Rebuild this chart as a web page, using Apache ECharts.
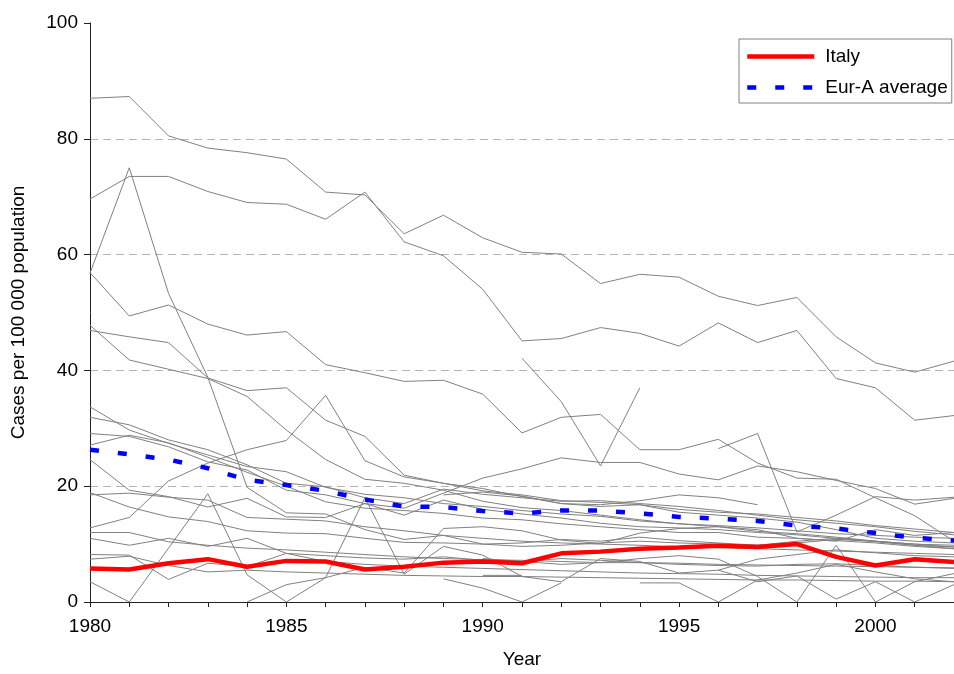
<!DOCTYPE html>
<html lang="en">

<head>
    <meta charset="UTF-8">
    <title>Cases per 100 000 population, Italy and Eur-A</title>
    <style type="text/css">
        html, body { margin: 0; padding: 0; background: #fff; }
        #main { height: 674px; width: 954px; }
    </style>
    <script src="https://cdn.jsdelivr.net/npm/echarts@6/dist/echarts.min.js"></script>
</head>

<body>
    <div id="main"></div>
    <script type="text/javascript">
        var years = [1980, 1981, 1982, 1983, 1984, 1985, 1986, 1987, 1988, 1989, 1990, 1991,
            1992, 1993, 1994, 1995, 1996, 1997, 1998, 1999, 2000, 2001, 2002];

        var italy = [5.8, 5.6, 6.7, 7.4, 6.1, 7.1, 7.0, 5.6, 6.1, 6.8, 7.0, 6.7, 8.4, 8.7, 9.2, 9.4, 9.7, 9.5, 10.0, 7.8, 6.3, 7.4, 6.9];
        var eurA = [26.3, 25.5, 24.6, 23.1, 21.1, 20.2, 19.2, 17.7, 16.5, 16.4, 15.7, 15.3, 15.8, 15.8, 15.3, 14.7, 14.4, 14.0, 13.2, 12.7, 11.9, 11.1, 10.6];

        // other Eur-A countries (grey lines), null = no data
        var g01 = [87.0, 87.3, 80.5, 78.4, 77.6, 76.5, 70.8, 70.3, 63.6, 66.8, 62.9, 60.4, 60.1, 55.0, 56.6, 56.1, 52.8, 51.2, 52.6, 45.8, 41.3, 39.7, 41.6];
        var g02 = [69.6, 73.5, 73.5, 70.9, 69.0, 68.7, 66.1, 70.8, 62.2, 59.8, 54.0, 45.1, 45.5, 47.4, 46.4, 44.2, 48.2, 44.8, 46.9, 38.6, 37.0, 31.4, 32.2];
        var g03 = [56.8, 75.0, 53.3, 38.8, 19.8, 15.4, 15.2, 12.5, 10.8, 11.5, 10.0, 10.2, 10.8, 10.5, 11.2, 10.6, 10.2, 9.8, 10.5, 11.0, 10.4, 9.8, 9.5];
        var g04 = [56.9, 49.4, 51.3, 48.0, 46.1, 46.7, 41.0, 39.6, 38.1, 38.3, 35.9, 29.2, 31.9, 32.4, 26.3, 26.3, 28.1, 24.0, 21.4, 21.2, 18.0, 14.9, 10.5];
        var g05 = [47.8, 41.8, 40.2, 38.6, 35.5, 29.7, 24.6, 21.2, 20.5, 19.3, 17.4, 16.3, 15.8, 15.0, 14.2, 13.5, 13.0, 12.2, 11.8, 11.2, 10.5, 10.0, 9.5];
        var g06 = [46.9, 45.8, 44.8, 38.7, 36.5, 37.0, 31.4, 28.6, 21.9, 20.5, 19.6, 18.2, 17.0, 16.5, 16.8, 15.5, 15.0, 14.5, 13.8, 12.5, 11.0, 10.5, 10.2];
        var g07 = [12.8, 14.6, 20.9, 24.0, 26.3, 27.9, 35.7, 24.4, 21.6, 20.5, 19.2, 18.5, 17.5, 17.2, 16.8, 16.0, 15.5, 15.2, 14.6, 14.0, 13.2, 12.6, 12.0];
        var g08 = [24.6, 19.3, 18.2, 16.4, 17.9, 14.7, 14.6, 17.0, 16.2, 18.8, 21.4, 23.0, 24.9, 24.1, 24.1, 22.1, 21.1, 23.5, 22.5, 21.0, 19.6, 16.9, 17.9];
        var g09 = [33.7, 29.7, 27.4, 25.4, 23.4, 22.5, 19.8, 18.6, 18.0, 17.0, 16.5, 15.8, 15.2, 14.8, 14.0, 13.5, 13.2, 12.8, 12.3, 11.8, 11.5, 11.2, 11.0];
        var g10 = [31.9, 30.6, 28.0, 26.3, 23.7, 20.5, 19.9, 18.0, 17.0, 19.5, 18.6, 18.0, 17.4, 17.5, 17.0, 16.5, 15.8, 15.0, 14.2, 13.6, 13.0, 12.2, 11.6];
        var g11 = [29.1, 28.6, 26.8, 24.2, 22.8, 19.3, 18.5, 17.0, 15.0, 17.6, 16.0, 15.2, 14.5, 13.6, 13.0, 12.8, 12.5, 12.0, 11.6, 11.0, 10.5, 10.0, 9.8];
        var g12 = [27.1, 28.8, 27.5, 25.0, 22.4, 20.0, 17.3, 16.2, 15.8, 15.3, 14.5, 14.2, 13.5, 13.0, 12.5, 12.0, 12.0, 11.2, 11.0, 10.6, 10.2, 9.6, 9.2];
        var g13 = [18.5, 18.8, 18.1, 17.6, 14.6, 14.3, 14.0, 13.0, 12.3, 11.5, 11.0, 10.5, 10.2, 10.0, 9.8, 9.5, 9.4, 9.2, 9.0, 8.8, 8.6, 8.4, 8.2];
        var g14 = [18.9, 16.4, 14.7, 13.9, 12.3, 11.9, 11.8, 11.0, 10.3, 10.2, 10.0, 9.6, 9.8, 10.2, 10.5, 10.2, 10.0, 9.8, 10.2, 10.8, 10.5, 9.8, 9.2];
        var g15 = [12.0, 12.0, 10.4, 9.8, 9.3, 9.0, 8.6, 8.2, 7.8, 7.5, 7.3, 7.2, 7.0, 6.8, 6.8, 6.7, 6.5, 6.4, 6.3, 6.2, 6.1, 6.0, 5.9];
        var g16 = [11.0, 9.8, 11.0, 9.6, 11.0, 8.4, 8.0, 7.6, 7.4, 7.8, 7.2, 7.0, 7.5, 7.2, 6.8, 6.5, 6.3, 6.2, 6.5, 6.6, 6.3, 6.0, 5.8];
        var g17 = [8.2, 8.1, 3.9, 6.7, 6.1, 8.4, 7.0, 6.5, 6.2, 6.0, 5.8, 5.6, 5.4, 5.2, 5.0, 4.9, 4.8, 4.6, 4.5, 4.4, 4.3, 4.2, 4.2];
        var g18 = [7.4, 7.9, 6.3, 5.2, 5.5, 5.2, 5.0, 4.8, 4.6, 4.5, 4.4, 4.4, 4.3, 4.2, 4.1, 4.0, 3.9, 3.8, 3.8, 3.7, 3.6, 3.6, 3.5];
        var g19 = [3.5, 0, 9.3, 18.7, 4.7, 0, 4.2, 6.0, 5.0, 12.7, 13.0, 12.3, 10.7, 10.1, 11.9, 12.7, 13.0, 12.5, 11.0, 10.5, 12.5, 11.5, 12.0];
        var g20 = [null, null, null, null, 0, 3.0, 4.2, 18.0, 4.8, 9.6, 8.1, 4.4, 3.5, 7.5, 7.0, 5.0, 5.5, 7.4, 8.2, 9.0, 8.5, 8.0, 7.8];
        var g21 = [null, null, null, null, null, null, null, null, null, 4.0, 2.4, 0, 3.3, null, null, null, null, null, null, null, null, null, null];
        var g22 = [null, null, null, null, null, null, null, null, null, null, 4.6, 4.6, null, null, null, null, null, null, null, null, null, null, null];
        var g23 = [null, null, null, null, null, null, null, null, null, null, null, null, null, null, 3.3, 3.3, 0, 3.8, 5.0, 6.5, 5.2, 4.0, 3.5];
        var g24 = [null, null, null, null, null, null, null, null, null, null, 7.5, 7.0, 6.5, 6.8, 7.5, 8.0, 7.4, 4.4, 0, 9.8, 0, 3.5, 4.9];
        var g25 = [null, null, null, null, null, null, null, null, null, null, null, null, null, null, null, null, 5.5, 3.5, 4.5, 0.5, 3.5, 0, 3.0];
        var g26 = [null, null, null, null, null, null, null, null, null, null, null, 42.1, 34.6, 23.5, 37.0, null, null, null, null, null, null, null, null];
        var g27 = [null, null, null, null, null, null, null, null, null, null, null, null, null, null, null, null, 26.5, 29.1, 12.1, 15.0, 18.2, 17.6, 18.1];
        var g28 = [null, null, null, null, null, null, null, null, null, 18.5, 19.0, 18.3, 17.0, 16.8, 17.5, 18.5, 18.0, 16.8, null, null, null, null, null];

        var greys = [g01, g02, g03, g04, g05, g06, g07, g08, g09, g10, g11, g12, g13, g14,
            g15, g16, g17, g18, g19, g20, g21, g22, g23, g24, g25, g26, g27, g28];

        var font = "'Liberation Sans', Arial, sans-serif";
        var myChart = echarts.init(document.getElementById('main'));

        var series = greys.map(function (d, i) {
            return {
                name: 'country' + i,
                type: 'line',
                data: d,
                symbol: 'none',
                silent: true,
                z: 2,
                lineStyle: { color: '#808080', width: 1 }
            };
        });
        series.push({
            name: 'Eur-A average',
            type: 'line',
            data: eurA,
            symbol: 'none',
            z: 3,
            itemStyle: { color: '#0000ff' },
            lineStyle: { color: '#0000ff', width: 4.5, type: [9, 19] }
        });
        series.push({
            name: 'Italy',
            type: 'line',
            data: italy,
            symbol: 'none',
            z: 4,
            itemStyle: { color: '#ff0000' },
            lineStyle: { color: '#ff0000', width: 4.5 }
        });

        var option = {
            animation: false,
            textStyle: { fontFamily: font },
            grid: { left: 90, right: -12, top: 23, bottom: 72 },
            legend: {
                data: ['Italy', 'Eur-A average'],
                orient: 'vertical',
                left: 739,
                top: 39,
                itemWidth: 67,
                itemHeight: 12,
                itemGap: 12,
                padding: [8, 4, 6, 6],
                borderColor: '#808080',
                borderWidth: 1,
                borderRadius: 0,
                itemStyle: { opacity: 0 },
                lineStyle: { width: 4.5 },
                textStyle: { fontFamily: font, fontSize: 19, color: '#000', padding: [0, 0, 0, 6] }
            },
            xAxis: {
                type: 'category',
                data: years.map(String),
                boundaryGap: false,
                name: 'Year',
                nameLocation: 'middle',
                nameGap: 48,
                nameTextStyle: { fontFamily: font, fontSize: 19, color: '#000' },
                axisLine: { lineStyle: { color: '#222', width: 1 } },
                axisTick: { interval: 0, length: 5, lineStyle: { color: '#222' } },
                axisLabel: { interval: 4, margin: 15, fontFamily: font, fontSize: 19, color: '#000' },
                splitLine: { show: false }
            },
            yAxis: {
                type: 'value',
                min: 0,
                max: 100,
                interval: 20,
                name: 'Cases per 100 000 population',
                nameLocation: 'middle',
                nameRotate: 90,
                nameGap: 62,
                nameTextStyle: { fontFamily: font, fontSize: 19, color: '#000' },
                axisLine: { show: true, lineStyle: { color: '#222', width: 1 } },
                axisTick: { show: true, length: 6, lineStyle: { color: '#222' } },
                axisLabel: { margin: 12, fontFamily: font, fontSize: 19, color: '#000' },
                splitLine: {
                    show: true,
                    showMinLine: false,
                    showMaxLine: false,
                    lineStyle: { color: '#b4b4b4', type: [8, 5] }
                }
            },
            series: series
        };
        myChart.setOption(option);
    </script>
</body>

</html>
